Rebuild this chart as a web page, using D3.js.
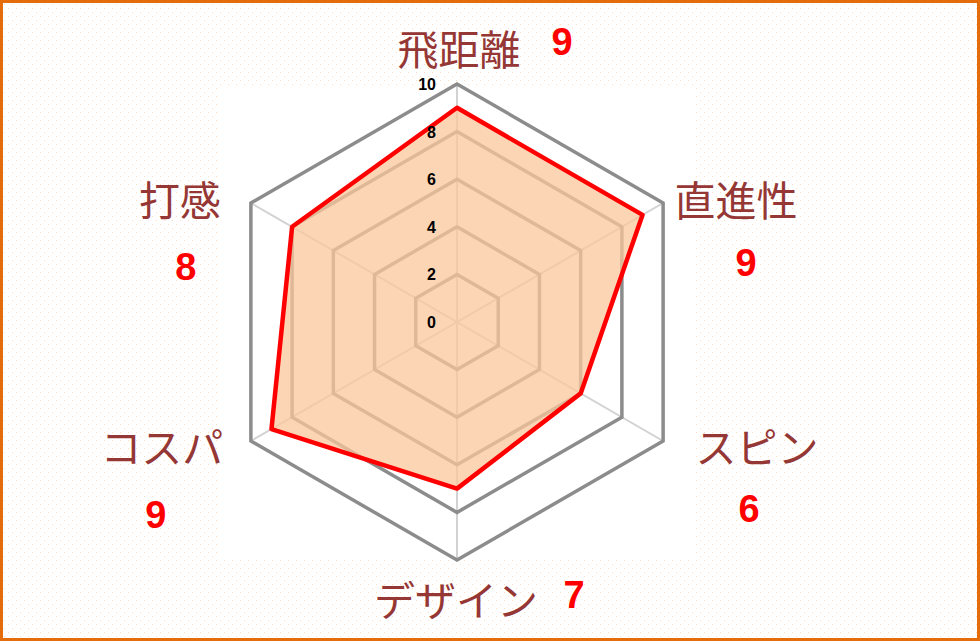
<!DOCTYPE html>
<html>
<head>
<meta charset="utf-8">
<script src="https://cdn.jsdelivr.net/npm/d3@7"></script>
<style>
  html, body { margin: 0; padding: 0; background: #fff; }
  svg { display: block; }
</style>
</head>
<body>
<svg id="chart" width="980" height="641"></svg>
<script>
// chart data
const categories = ['飛距離', '直進性', 'スピン', 'デザイン', 'コスパ', '打感'];
const scores = [9, 9, 6, 7, 9, 8];
const tickValues = [0, 2, 4, 6, 8, 10];

// label layout: offsets from each outer vertex [name dx, name dy, value dx, value dy]
const labelOffsets = [
  [2, -37, 105, -29],
  [73, -5, 83, 73],
  [94, 4, 86, 81],
  [-1, 38, 117, 48],
  [-89, 4, -95, 87],
  [-71, -5, -65, 77]
];

const W = 980, H = 641;
const cx = 457, cy = 322, R = 238;

const svg = d3.select('#chart');

// background pattern
const defs = svg.append('defs');
const pat = defs.append('pattern')
  .attr('id', 'dots')
  .attr('width', 8).attr('height', 8)
  .attr('patternUnits', 'userSpaceOnUse');
pat.append('rect').attr('width', 8).attr('height', 8).attr('fill', '#fff');
pat.append('rect').attr('x', 0).attr('y', 0).attr('width', 1).attr('height', 1).attr('fill', '#fcdcbf');
pat.append('rect').attr('x', 4).attr('y', 4).attr('width', 1).attr('height', 1).attr('fill', '#fcdcbf');

svg.append('rect')
  .attr('x', 0).attr('y', 0).attr('width', W).attr('height', H)
  .attr('fill', 'url(#dots)');

// plot area
svg.append('rect')
  .attr('x', 217).attr('y', 85).attr('width', 478).attr('height', 473)
  .attr('fill', '#fff');

const r = d3.scaleLinear().domain([0, 10]).range([0, R]);
const angle = i => i * 2 * Math.PI / categories.length;
const pt = (i, v) => [cx + r(v) * Math.sin(angle(i)), cy - r(v) * Math.cos(angle(i))];

const g = svg.append('g');

// spokes
g.selectAll('.spoke')
  .data(categories)
  .enter()
  .append('line')
  .attr('class', 'spoke')
  .attr('x1', cx).attr('y1', cy)
  .attr('x2', (d, i) => pt(i, 10)[0])
  .attr('y2', (d, i) => pt(i, 10)[1])
  .attr('stroke', '#d2d2d2')
  .attr('stroke-width', 2);

// rings
const ringLine = d3.line().curve(d3.curveLinearClosed);
g.selectAll('.ring')
  .data(tickValues.filter(t => t > 0))
  .enter()
  .append('path')
  .attr('class', 'ring')
  .attr('d', t => ringLine(categories.map((c, i) => pt(i, t))))
  .attr('fill', 'none')
  .attr('stroke', '#8c8c8c')
  .attr('stroke-width', 3.5)
  .attr('stroke-linejoin', 'miter');

// series
const seriesPts = scores.map((v, i) => pt(i, v));
g.append('path')
  .attr('d', ringLine(seriesPts))
  .attr('fill', 'rgb(251,199,155)')
  .attr('fill-opacity', 0.75)
  .attr('stroke', 'none');

g.append('path')
  .attr('d', ringLine(seriesPts))
  .attr('fill', 'none')
  .attr('stroke', '#ff0000')
  .attr('stroke-width', 4.5)
  .attr('stroke-linejoin', 'round');

// tick labels
g.selectAll('.tick')
  .data(tickValues)
  .enter()
  .append('text')
  .attr('class', 'tick')
  .attr('x', cx - 21)
  .attr('y', t => cy - r(t) + 6)
  .attr('text-anchor', 'end')
  .style('font-family', '"Liberation Sans", Arial, sans-serif')
  .style('font-weight', 'bold')
  .style('font-size', '16px')
  .attr('fill', '#000')
  .text(t => t);

// category names
svg.selectAll('.cat')
  .data(categories)
  .enter()
  .append('text')
  .attr('class', 'cat')
  .attr('x', (d, i) => pt(i, 10)[0] + labelOffsets[i][0])
  .attr('y', (d, i) => pt(i, 10)[1] + labelOffsets[i][1])
  .attr('text-anchor', 'middle')
  .attr('dominant-baseline', 'central')
  .style('font-family', '"Noto Sans CJK JP", sans-serif')
  .style('font-weight', 400)
  .style('font-size', '41px')
  .attr('fill', '#953735')
  .text(d => d);

// score values
svg.selectAll('.val')
  .data(scores)
  .enter()
  .append('text')
  .attr('class', 'val')
  .attr('x', (d, i) => pt(i, 10)[0] + labelOffsets[i][2])
  .attr('y', (d, i) => pt(i, 10)[1] + labelOffsets[i][3])
  .attr('text-anchor', 'middle')
  .style('font-family', '"Liberation Sans", Arial, sans-serif')
  .style('font-weight', 'bold')
  .style('font-size', '38px')
  .attr('fill', '#ff0000')
  .text(d => d);

// chart border
svg.append('rect')
  .attr('x', 1.5).attr('y', 1.5).attr('width', W - 3).attr('height', H - 3)
  .attr('fill', 'none')
  .attr('stroke', '#e46c0a')
  .attr('stroke-width', 3);
</script>
</body>
</html>
